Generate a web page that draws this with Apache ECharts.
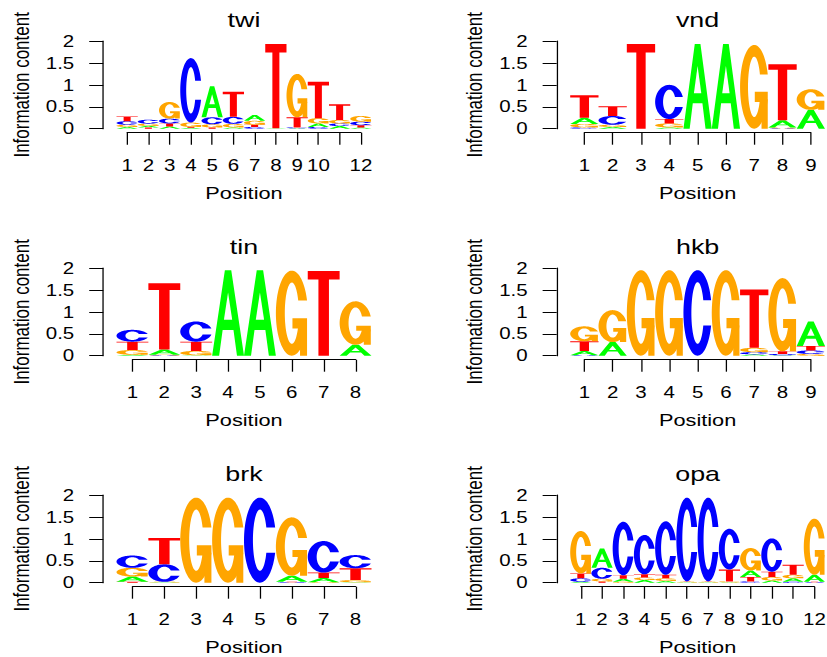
<!DOCTYPE html>
<html>
<head>
<meta charset="utf-8">
<script src="https://cdn.jsdelivr.net/npm/echarts@6/dist/echarts.min.js"></script>
<style>
html,body{margin:0;padding:0;background:#fff;overflow:hidden;}
#wrap{width:827px;height:657px;overflow:hidden;position:relative;}
#chart{position:absolute;left:0;top:0;height:657px;transform-origin:0 0;}
</style>
</head>
<body>
<div id="wrap"><div id="chart"></div></div>
<script>
// ---------- data ----------
const letters = ['A', 'C', 'G', 'T'];
const letterColors = ['#00FF00', '#0000FF', '#FFA500', '#FF0000'];
const yTickValues = [0, 0.5, 1, 1.5, 2];
const xAxisName = 'Position';
const yAxisName = 'Information content';

// twi (12 positions) - bits per letter
const twiA = [0.04, 0.035, 0.05, 0.02, 0.71, 0.03, 0.13, 0.01, 0.01, 0.08, 0.06, 0.03];
const twiC = [0.08, 0.09, 0.11, 1.47, 0.16, 0.16, 0.04, 0.0, 0.02, 0.04, 0.06, 0.08];
const twiG = [0.05, 0.05, 0.38, 0.10, 0.07, 0.08, 0.09, 0.0, 0.99, 0.12, 0.08, 0.13];
const twiT = [0.11, 0.03, 0.07, 0.02, 0.03, 0.57, 0.05, 1.92, 0.23, 0.83, 0.36, 0.05];
const twiTicks = ['1', '2', '3', '4', '5', '6', '7', '8', '9', '10', '', '12'];

// vnd (9 positions)
const vndA = [0.14, 0.04, 0.0, 0.03, 1.93, 1.93, 0.0, 0.16, 0.43];
const vndC = [0.03, 0.20, 0.0, 0.78, 0.0, 0.0, 0.0, 0.01, 0.0];
const vndG = [0.08, 0.05, 0.0, 0.09, 0.0, 0.0, 1.91, 0.02, 0.47];
const vndT = [0.51, 0.22, 1.93, 0.10, 0.0, 0.0, 0.0, 1.28, 0.0];
const vndTicks = ['1', '2', '3', '4', '5', '6', '7', '8', '9'];

// tin (8 positions)
const tinA = [0.02, 0.12, 0.01, 1.95, 1.95, 0.0, 0.0, 0.25];
const tinC = [0.27, 0.01, 0.46, 0.0, 0.0, 0.0, 0.0, 0.0];
const tinG = [0.11, 0.01, 0.10, 0.0, 0.0, 1.94, 0.0, 0.99];
const tinT = [0.19, 1.51, 0.21, 0.0, 0.0, 0.0, 1.93, 0.0];
const tinTicks = ['1', '2', '3', '4', '5', '6', '7', '8'];

// hkb (9 positions)
const hkbA = [0.10, 0.31, 0.0, 0.0, 0.0, 0.0, 0.03, 0.01, 0.56];
const hkbC = [0.01, 0.0, 0.0, 0.0, 1.95, 0.0, 0.05, 0.03, 0.08];
const hkbG = [0.34, 0.73, 1.95, 1.95, 0.0, 1.95, 0.10, 1.67, 0.04];
const hkbT = [0.22, 0.0, 0.0, 0.0, 0.0, 0.0, 1.33, 0.06, 0.10];
const hkbTicks = ['1', '2', '3', '4', '5', '6', '7', '8', '9'];

// brk (8 positions)
const brkA = [0.12, 0.01, 0.0, 0.0, 0.0, 0.14, 0.10, 0.01];
const brkC = [0.28, 0.40, 0.0, 0.0, 1.94, 0.01, 0.72, 0.30];
const brkG = [0.20, 0.01, 1.94, 1.94, 0.0, 1.33, 0.01, 0.05];
const brkT = [0.02, 0.60, 0.0, 0.0, 0.0, 0.01, 0.12, 0.27];
const brkTicks = ['1', '2', '3', '4', '5', '6', '7', '8'];

// opa (12 positions)
const opaA = [0.02, 0.44, 0.07, 0.06, 0.04, 0.01, 0.01, 0.01, 0.15, 0.05, 0.08, 0.16];
const opaC = [0.08, 0.25, 1.22, 0.90, 1.22, 1.91, 1.91, 0.93, 0.03, 0.76, 0.02, 0.01];
const opaG = [0.97, 0.06, 0.02, 0.06, 0.06, 0.01, 0.01, 0.02, 0.51, 0.08, 0.08, 1.28];
const opaT = [0.11, 0.03, 0.08, 0.07, 0.08, 0.01, 0.01, 0.27, 0.10, 0.12, 0.23, 0.01];
const opaTicks = ['1', '2', '3', '4', '5', '6', '7', '8', '9', '10', '', '12'];

const panels = [
  { title: 'twi', A: twiA, C: twiC, G: twiG, T: twiT, ticks: twiTicks },
  { title: 'vnd', A: vndA, C: vndC, G: vndG, T: vndT, ticks: vndTicks },
  { title: 'tin', A: tinA, C: tinC, G: tinG, T: tinT, ticks: tinTicks },
  { title: 'hkb', A: hkbA, C: hkbC, G: hkbG, T: hkbT, ticks: hkbTicks },
  { title: 'brk', A: brkA, C: brkC, G: brkG, T: brkT, ticks: brkTicks },
  { title: 'opa', A: opaA, C: opaC, G: opaG, T: opaT, ticks: opaTicks }
];

// ---------- layout (reference pixel coords; the page is stretched horizontally by S) ----------
const S = 1.28;
const W = 827 / S;
const colLayout = [
  { plotL: 116.5, plotR: 371.5, axisX: 103.3, nameX: 21.0 },
  { plotL: 570.2, plotR: 825.0, axisX: 556.7, nameX: 474.4 }
];
const rowLayout = [
  { top: 41.0, bottom: 128.7 },
  { top: 268.0, bottom: 355.7 },
  { top: 495.0, bottom: 582.7 }
];
const FONT = '"Liberation Sans", Arial, Helvetica, sans-serif';

// ---------- letter glyph polygons in a unit box (x right, y up) ----------
function arc(cx, cy, rx, ry, a0, a1, n) {
  const pts = [];
  for (let i = 0; i <= n; i++) {
    const a = (a0 + (a1 - a0) * i / n) * Math.PI / 180;
    pts.push([cx + rx * Math.cos(a), cy + ry * Math.sin(a)]);
  }
  return pts;
}
function ringC() {
  const yOpen = 0.352;
  const phiO = Math.asin((0.5 - yOpen) / 0.5) * 180 / Math.PI;
  const rxi = 0.22, ryi = 0.36;
  const psi = Math.asin((0.5 - yOpen) / ryi) * 180 / Math.PI;
  const outer = arc(0.5, 0.5, 0.5, 0.5, -phiO, -360 + phiO, 80);
  const inner = arc(0.5, 0.5, rxi, ryi, -360 + psi, -psi, 80);
  return outer.concat(inner);
}
const shapeA = [
  { pts: [[0, 0], [0.4, 1], [0.6, 1], [1, 0], [0.78, 0], [0.67, 0.3], [0.33, 0.3], [0.22, 0]] },
  { pts: [[0.37, 0.42], [0.5, 0.74], [0.63, 0.42]], white: true }
];
const shapeC = [{ pts: ringC() }];
const r1 = 0.978;
const shapeG = [
  { pts: ringC() },
  { pts: [[r1, 0.44], [0.52, 0.44], [0.52, 0.32], [r1 - 0.22, 0.32], [r1 - 0.22, 0], [r1, 0]] }
];
const shapeT = [{ pts: [[0, 1], [1, 1], [1, 0.9], [0.665, 0.9], [0.665, 0], [0.335, 0], [0.335, 0.9], [0, 0.9]] }];
const letterShapes = [shapeA, shapeC, shapeG, shapeT];

function renderLetter(params, api) {
  const pos = api.value(0), y0 = api.value(1), y1 = api.value(2), k = api.value(3);
  const pA = api.coord([pos - 0.5, y0]);
  const pB = api.coord([pos + 0.5, y1]);
  const x0 = pA[0], xw = pB[0] - pA[0], yb = pA[1], yh = pA[1] - pB[1];
  const children = letterShapes[k].map(function (sh) {
    return {
      type: 'polygon',
      shape: { points: sh.pts.map(function (p) { return [x0 + p[0] * xw, yb - p[1] * yh]; }) },
      style: { fill: sh.white ? '#ffffff' : letterColors[k], stroke: null }
    };
  });
  return { type: 'group', children: children };
}

// ---------- build option ----------
const grids = [], xAxes = [], yAxes = [], series = [], graphics = [];
panels.forEach(function (p, i) {
  const col = colLayout[i % 2], row = rowLayout[Math.floor(i / 2)];
  const n = p.A.length;
  const unit = (col.plotR - col.plotL) / n;
  const gl = (col.plotL + unit / 2) / S;
  const gw = (col.plotR - col.plotL - unit) / S;
  grids.push({ left: gl, top: row.top, width: gw, height: row.bottom - row.top, containLabel: false, outerBoundsMode: 'none' });
  xAxes.push({
    gridIndex: i, type: 'value', min: 1, max: n, interval: 1, offset: 4,
    axisLine: { show: true, onZero: false, lineStyle: { color: '#000', width: 1 } },
    axisTick: { show: true, length: 12, lineStyle: { color: '#000', width: 1 } },
    axisLabel: {
      show: true, margin: 24.5, color: '#000', fontSize: 16, fontFamily: FONT,
      showMinLabel: true, showMaxLabel: true, hideOverlap: false,
      formatter: function (v) { const t = p.ticks[Math.round(v) - 1]; return t === undefined ? '' : t; }
    },
    splitLine: { show: false }
  });
  yAxes.push({
    gridIndex: i, type: 'value', min: yTickValues[0], max: yTickValues[yTickValues.length - 1], interval: 0.5,
    offset: gl - col.axisX / S,
    axisLine: { show: true, onZero: false, lineStyle: { color: '#000', width: 1 } },
    axisTick: { show: true, length: 11, lineStyle: { color: '#000', width: 1 } },
    axisLabel: { show: true, margin: 22.7, color: '#000', fontSize: 16, fontFamily: FONT, showMinLabel: true, showMaxLabel: true },
    splitLine: { show: false }
  });
  const data = [];
  for (let j = 0; j < n; j++) {
    const items = letters.map(function (L, k) { return { k: k, h: p[L][j] }; })
      .filter(function (d) { return d.h > 0; })
      .sort(function (a, b) { return a.h - b.h; });
    let y0 = 0;
    items.forEach(function (d) { data.push([j + 1, y0, y0 + d.h, d.k]); y0 += d.h; });
  }
  series.push({
    type: 'custom', name: p.title, xAxisIndex: i, yAxisIndex: i, data: data,
    renderItem: renderLetter, silent: true, animation: false, clip: false,
    encode: { x: 0, y: [1, 2] }
  });
  const cx = (col.plotL + col.plotR) / 2 / S;
  graphics.push({
    type: 'text', x: cx, y: row.top - 21.4,
    style: { text: p.title, fill: '#000', fontSize: 21, fontFamily: FONT, fontWeight: 'normal',
      align: 'center', verticalAlign: 'middle', textAlign: 'center', textVerticalAlign: 'middle' }
  });
  graphics.push({
    type: 'text', x: cx, y: row.bottom + 64.3,
    style: { text: xAxisName, fill: '#000', fontSize: 17, fontFamily: FONT, lineHeight: 13,
      align: 'center', verticalAlign: 'middle', textAlign: 'center', textVerticalAlign: 'middle' }
  });
  graphics.push({
    type: 'text', x: col.nameX / S, y: (row.top + row.bottom) / 2, rotation: Math.PI / 2,
    style: { text: yAxisName, fill: '#000', fontSize: 17, fontFamily: FONT,
      align: 'center', verticalAlign: 'middle', textAlign: 'center', textVerticalAlign: 'middle' }
  });
});

const dom = document.getElementById('chart');
dom.style.width = W + 'px';
dom.style.transform = 'scaleX(' + S + ')';
const chart = echarts.init(dom, null, { renderer: 'svg', width: W, height: 657 });
chart.setOption({
  animation: false,
  backgroundColor: '#ffffff',
  grid: grids,
  xAxis: xAxes,
  yAxis: yAxes,
  series: series,
  graphic: { elements: graphics }
});
</script>
</body>
</html>
